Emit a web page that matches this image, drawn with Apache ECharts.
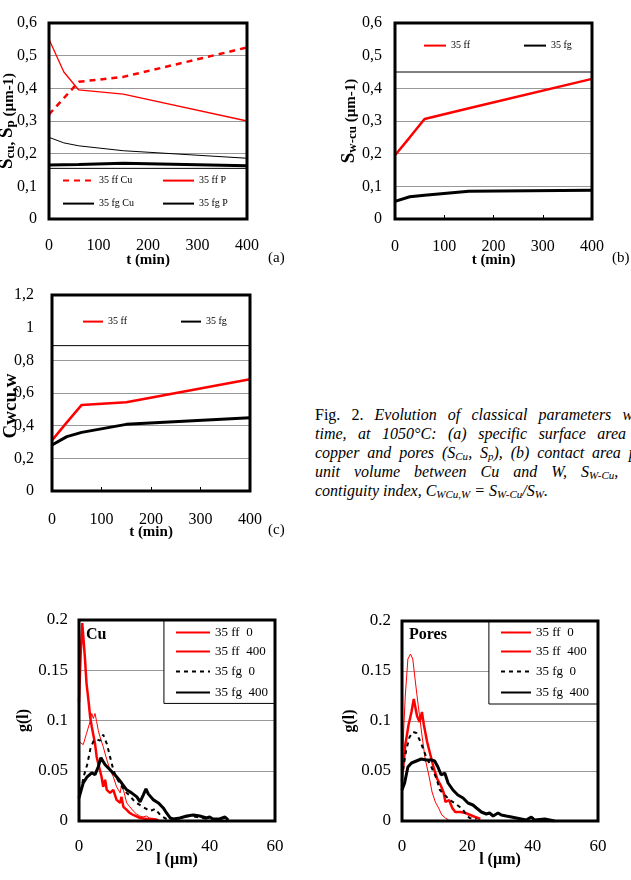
<!DOCTYPE html>
<html>
<head>
<meta charset="utf-8">
<script src="https://cdn.jsdelivr.net/npm/echarts@6/dist/echarts.min.js"></script>
<style>
html, body { margin: 0; padding: 0; width: 631px; height: 880px; overflow: hidden; background: #fff; }
.layer { position: absolute; left: 0; top: 0; width: 631px; height: 880px; }
#caption { position: absolute; left: 315px; top: 405px; font-family: 'Liberation Serif', 'Times New Roman', serif; font-size: 16px; line-height: 19px; color: #000; }
#caption div { width: 335px; text-align: justify; text-align-last: justify; }
#caption div.last { text-align-last: left; }
#caption sub { font-size: 11px; line-height: 0; vertical-align: -2px; }
</style>
</head>
<body>
<div id="caption">
  <div>Fig.&nbsp;2. <i>Evolution of classical parameters with</i></div>
  <div><i>time, at 1050°C: (a) specific surface area of</i></div>
  <div><i>copper and pores (S<sub>Cu</sub>, S<sub>p</sub>), (b) contact area per</i></div>
  <div><i>unit volume between Cu and W, S<sub>W-Cu</sub>, (c)</i></div>
  <div class="last"><i>contiguity index, C<sub>WCu,W</sub> = S<sub>W-Cu</sub>/S<sub>W</sub>.</i></div>
</div>
<script>
var FONT = "'Liberation Serif', 'Times New Roman', serif"

// (a)-(c): sintering time (min)
var tMin = [0, 30, 60, 150, 400]
var sCuFF = [0.32, 0.37, 0.42, 0.435, 0.525]
var sPFF = [0.55, 0.45, 0.395, 0.382, 0.30]
var sCuFG = [0.165, 0.166, 0.167, 0.171, 0.163]
var sPFG = [0.25, 0.233, 0.224, 0.209, 0.186]
var swcuFF = [0.195, 0.25, 0.306, 0.339, 0.429]
var swcuFG = [0.054, 0.068, 0.073, 0.085, 0.088]
var cwFF = [0.31, 0.42, 0.527, 0.543, 0.684]
var cwFG = [0.282, 0.333, 0.359, 0.408, 0.449]

// g(l) distributions, Cu
var lCuFF0 = [0, 1.3, 2.3, 3.4, 3.9, 4.4, 4.9, 5.4, 5.9, 6.4, 7.4, 8.5, 9.5, 10.5, 11.5, 12.6, 13.1, 13.6, 14.6, 15.6, 16.6, 17.6, 18.6, 19.6, 20.6, 21.6, 22.6, 23.6, 24.6]
var gCuFF0 = [0.079, 0.076, 0.087, 0.099, 0.107, 0.102, 0.107, 0.099, 0.09, 0.084, 0.074, 0.061, 0.051, 0.044, 0.034, 0.028, 0.037, 0.031, 0.018, 0.014, 0.01, 0.007, 0.005, 0.004, 0.005, 0.003, 0.002, 0.002, 0.001]
var lCuFF400 = [0, 0.5, 1, 1.8, 2.3, 2.9, 3.4, 3.9, 4.9, 5.4, 5.9, 6.9, 7.4, 8, 8.5, 9.5, 10.5, 11.5, 12.6, 13, 13.6, 14.6, 15.5, 16.6, 18.7, 20.7, 22.5, 24]
var gCuFF400 = [0.118, 0.165, 0.197, 0.163, 0.137, 0.12, 0.104, 0.094, 0.077, 0.064, 0.057, 0.044, 0.034, 0.041, 0.031, 0.028, 0.031, 0.021, 0.018, 0.024, 0.014, 0.011, 0.008, 0.006, 0.003, 0.002, 0.002, 0.001]
var lCuFG0 = [0.5, 1.5, 2.5, 3.5, 4.5, 5.5, 6.5, 7.4, 8.5, 9.5, 10.5, 11.5, 12.6, 13.6, 14.6, 15.6, 16.6, 17.6, 18.6, 19.6, 20.6, 21.6, 22.6, 23.3, 24.6, 25.6, 26.8, 28, 30, 32, 34, 36, 38, 40]
var gCuFG0 = [0.03, 0.045, 0.056, 0.072, 0.08, 0.081, 0.08, 0.086, 0.077, 0.064, 0.051, 0.043, 0.037, 0.032, 0.028, 0.025, 0.021, 0.018, 0.016, 0.014, 0.012, 0.01, 0.011, 0.012, 0.007, 0.004, 0.002, 0.001, 0.002, 0.004, 0.005, 0.004, 0.003, 0.001]
var lCuFG400 = [0, 1.3, 2.5, 3.9, 4.9, 5.9, 6.7, 8, 9.5, 11.5, 13, 14.6, 16.1, 17.7, 18.7, 19.7, 20.5, 21.2, 22.8, 24.3, 25.8, 26.8, 27.9, 28.9, 30.9, 33, 35, 37, 39, 40, 41, 43, 44.7, 45.7]
var gCuFG400 = [0.023, 0.038, 0.044, 0.048, 0.046, 0.054, 0.063, 0.056, 0.051, 0.044, 0.038, 0.031, 0.028, 0.024, 0.019, 0.026, 0.032, 0.027, 0.021, 0.018, 0.013, 0.008, 0.003, 0.002, 0.003, 0.005, 0.006, 0.005, 0.003, 0.004, 0.002, 0.002, 0.004, 0.001]

// g(l) distributions, pores
var lPFF0 = [0, 0.5, 1, 1.8, 2.6, 3.3, 4.1, 5.1, 6.1, 7.1, 8.2, 9.2, 10.2, 11.2, 12.2, 13.3, 14.3]
var gPFF0 = [0.04, 0.09, 0.125, 0.162, 0.167, 0.162, 0.139, 0.112, 0.086, 0.062, 0.046, 0.029, 0.019, 0.013, 0.006, 0.003, 0.001]
var lPFF400 = [0, 1, 2, 2.9, 3.6, 4.1, 4.6, 5.4, 6.1, 6.7, 7.7, 8.7, 9.8, 10.8, 11.8, 12.7, 13.3, 14.4, 15.4, 16.3, 17.9, 19.4, 20.9, 22.4, 24]
var gPFF400 = [0.04, 0.076, 0.096, 0.109, 0.122, 0.124, 0.105, 0.099, 0.109, 0.096, 0.079, 0.066, 0.052, 0.042, 0.036, 0.029, 0.019, 0.021, 0.013, 0.009, 0.009, 0.008, 0.006, 0.004, 0.002]
var lPFG0 = [0.3, 1.3, 2.3, 3.4, 4.4, 5.4, 6.4, 7.4, 9, 10.5, 11.6, 13.1, 14.6, 16.1, 17.7, 18.7, 19.7, 20.7, 22.8]
var gPFG0 = [0.051, 0.071, 0.084, 0.089, 0.088, 0.081, 0.073, 0.064, 0.054, 0.043, 0.031, 0.026, 0.021, 0.018, 0.014, 0.011, 0.006, 0.003, 0.002]
var lPFG400 = [0, 0.8, 1.8, 2.9, 4.4, 5.9, 7.4, 9, 10, 11, 12, 13.1, 14.1, 15.6, 17.1, 18.7, 20.2, 21.7, 22.8, 24.3, 25.8, 26.8, 27.9, 29.4, 30.4, 31.9, 33.5, 35, 36.5, 38, 39.6, 40.6, 43.7, 45.2, 46.7]
var gPFG400 = [0.031, 0.038, 0.054, 0.058, 0.06, 0.062, 0.061, 0.061, 0.06, 0.054, 0.046, 0.048, 0.038, 0.031, 0.026, 0.023, 0.018, 0.016, 0.013, 0.009, 0.007, 0.008, 0.005, 0.008, 0.006, 0.005, 0.004, 0.003, 0.002, 0.001, 0.004, 0.001, 0.002, 0.001, 0]

function pts(x, y) {
    return x.map(function(v, i) { return [v, y[i]] })
}
function commaFmt(v) {
    return String(+v.toFixed(2)).replace('.', ',')
}
function dotFmt(v) {
    return String(+v.toFixed(2))
}
function lineSeries(name, x, y, color, width, type) {
    return {
        name: name,
        type: 'line',
        data: pts(x, y),
        symbol: 'none',
        lineStyle: { color: color, width: width, type: type || 'solid' },
        itemStyle: { color: color }
    }
}
function legendItem(name, left, top, w, size) {
    return {
        data: [name],
        left: left,
        top: top,
        itemWidth: w,
        itemHeight: 14,
        padding: 0,
        selectedMode: false,
        itemStyle: { opacity: 0 }, // line only, no marker
        textStyle: { fontFamily: FONT, fontSize: size, color: '#000' }
    }
}
function frame(g) {
    return {
        left: g[0], top: g[1], width: g[2], height: g[3],
        outerBoundsMode: 'none', containLabel: false,
        show: true, borderColor: '#000', borderWidth: 3, z: 10
    }
}
function boxArea(series, box) {
    series.markArea = {
        silent: true,
        label: { show: false },
        itemStyle: { color: '#fff', borderColor: '#000', borderWidth: 1 },
        data: [box]
    }
    return series
}
function nameStyle(pad) {
    var base = { fontFamily: FONT, fontWeight: 'bold', color: '#000', verticalAlign: 'bottom' }
    return {
        fontFamily: FONT, fontSize: 15, fontWeight: 'bold', color: '#000', lineHeight: 20,
        padding: pad || 0,
        rich: {
            b: Object.assign({ fontSize: 19, lineHeight: 20 }, base),
            s: Object.assign({ fontSize: 13, lineHeight: 8 }, base),
            t: Object.assign({ fontSize: 19, lineHeight: 8 }, base),
            n: Object.assign({ fontSize: 15, lineHeight: 20 }, base)
        }
    }
}
function timeAxis(margin) {
    return {
        type: 'value', min: 0, max: 400, interval: 100,
        name: 't (min)', nameLocation: 'middle', nameGap: 34, nameMoveOverlap: false,
        nameTextStyle: { fontFamily: FONT, fontSize: 15, fontWeight: 'bold', color: '#000' },
        axisLine: { show: false },
        axisTick: { show: true, inside: true, length: 4, lineStyle: { color: '#000' } },
        splitLine: { show: false },
        axisLabel: { margin: margin, fontFamily: FONT, fontSize: 16, color: '#000' }
    }
}
function fracAxis(max, interval, name, gap, margin, pad) {
    return {
        type: 'value', min: 0, max: max, interval: interval,
        name: name, nameLocation: 'middle', nameGap: gap, nameMoveOverlap: false,
        nameTextStyle: nameStyle(pad),
        axisLine: { show: false },
        axisTick: { show: false },
        splitLine: { lineStyle: { color: '#999', width: 1 } },
        axisLabel: { margin: margin, fontFamily: FONT, fontSize: 16, color: '#000', formatter: commaFmt }
    }
}
function tag(text, left, top, size, weight) {
    return { type: 'text', left: left, top: top, style: { text: text, fontFamily: FONT, fontSize: size, fontWeight: weight || 'normal', fill: '#000' } }
}
function makeChart(option) {
    var el = document.createElement('div')
    el.className = 'layer'
    document.body.appendChild(el)
    var chart = echarts.init(el, null, { width: 631, height: 880 })
    option.animation = false
    chart.setOption(option)
    return chart
}

// (a) specific surface area
makeChart({
    grid: frame([49, 23, 198, 196]),
    xAxis: timeAxis(19),
    yAxis: fracAxis(0.6, 0.1, '{b|S}{s|cu}{n|, }{b|S}{s|p}{n| (µm-1)}', 32, 12),
    legend: [
        legendItem('35 ff Cu', 62, 175, 31, 10),
        legendItem('35 ff P', 162, 175, 31, 10),
        legendItem('35 fg Cu', 62, 198, 31, 10),
        legendItem('35 fg P', 162, 198, 31, 10)
    ],
    graphic: [tag('(a)', 268, 251, 15)],
    series: [
        boxArea(lineSeries('35 ff Cu', tMin, sCuFF, '#ff0000', 2.5, [6, 5]), [{ yAxis: 0 }, { yAxis: 0.155 }]),
        lineSeries('35 ff P', tMin, sPFF, '#ff0000', 1.3),
        lineSeries('35 fg Cu', tMin, sCuFG, '#000', 3),
        lineSeries('35 fg P', tMin, sPFG, '#000', 1)
    ]
})

// (b) contact area W-Cu
makeChart({
    grid: frame([395, 23, 197, 196]),
    xAxis: timeAxis(20),
    yAxis: fracAxis(0.6, 0.1, '{b|S}{s|w-cu}{n| (µm-1)}', 36, 13),
    legend: [
        legendItem('35 ff', 423, 40, 22, 10),
        legendItem('35 fg', 523, 40, 22, 10)
    ],
    graphic: [tag('(b)', 612, 251, 15)],
    series: [
        boxArea(lineSeries('35 ff', tMin, swcuFF, '#ff0000', 2.5), [{ yAxis: 0.45 }, { yAxis: 0.6 }]),
        lineSeries('35 fg', tMin, swcuFG, '#000', 3)
    ]
})

// (c) contiguity
makeChart({
    grid: frame([52, 295, 198, 196]),
    xAxis: timeAxis(21),
    yAxis: fracAxis(1.2, 0.2, '{b|C}{t|wcu,w}', 31, 18, [0, 26, 0, 0]),
    legend: [
        legendItem('35 ff', 82, 316, 20, 10),
        legendItem('35 fg', 180, 316, 20, 10)
    ],
    graphic: [tag('(c)', 268, 523, 15)],
    series: [
        boxArea(lineSeries('35 ff', tMin, cwFF, '#ff0000', 2.5), [{ yAxis: 0.89 }, { yAxis: 1.2 }]),
        lineSeries('35 fg', tMin, cwFG, '#000', 3)
    ]
})

function distChart(g, legLeft, legW, boxLeft, title, lgap, data) {
    return {
        grid: frame(g),
        xAxis: {
            type: 'value', min: 0, max: 60, interval: 20,
            name: 'l (µm)', nameLocation: 'middle', nameGap: 31, nameMoveOverlap: false,
            nameTextStyle: { fontFamily: FONT, fontSize: 16, fontWeight: 'bold', color: '#000' },
            axisLine: { show: false }, axisTick: { show: false }, splitLine: { show: false },
            axisLabel: { margin: 17, fontFamily: FONT, fontSize: 17, color: '#000' }
        },
        yAxis: {
            type: 'value', min: 0, max: 0.2, interval: 0.05,
            name: 'g(l)', nameLocation: 'middle', nameGap: lgap, nameMoveOverlap: false,
            nameTextStyle: { fontFamily: FONT, fontSize: 16, fontWeight: 'bold', color: '#000' },
            axisLine: { show: false }, axisTick: { show: false },
            splitLine: { lineStyle: { color: '#999', width: 1 } },
            axisLabel: { margin: 11, fontFamily: FONT, fontSize: 17, color: '#000', formatter: dotFmt }
        },
        legend: [
            legendItem('35 ff  0', legLeft, 626, legW, 13),
            legendItem('35 ff  400', legLeft, 645, legW, 13),
            legendItem('35 fg  0', legLeft, 665, legW, 13),
            legendItem('35 fg  400', legLeft, 686, legW, 13)
        ],
        graphic: [tag(title, g[0] + 7, 627, 16, 'bold')],
        series: [
            boxArea(lineSeries('35 ff  0', data[0], data[1], '#ff0000', 1), [{ xAxis: boxLeft, yAxis: 0.117 }, { xAxis: 60, yAxis: 0.2 }]),
            lineSeries('35 ff  400', data[2], data[3], '#ff0000', 2.5),
            lineSeries('35 fg  0', data[4], data[5], '#000', 2, [4, 4]),
            lineSeries('35 fg  400', data[6], data[7], '#000', 3)
        ]
    }
}

// (d) Cu chord lengths
makeChart(distChart([79, 620, 196, 201], 175, 34, 26, 'Cu', 47,
    [lCuFF0, gCuFF0, lCuFF400, gCuFF400, lCuFG0, gCuFG0, lCuFG400, gCuFG400]))

// (e) pore chord lengths
makeChart(distChart([402, 621, 196, 200], 500, 30, 26.6, 'Pores', 44,
    [lPFF0, gPFF0, lPFF400, gPFF400, lPFG0, gPFG0, lPFG400, gPFG400]))
</script>
</body>
</html>
